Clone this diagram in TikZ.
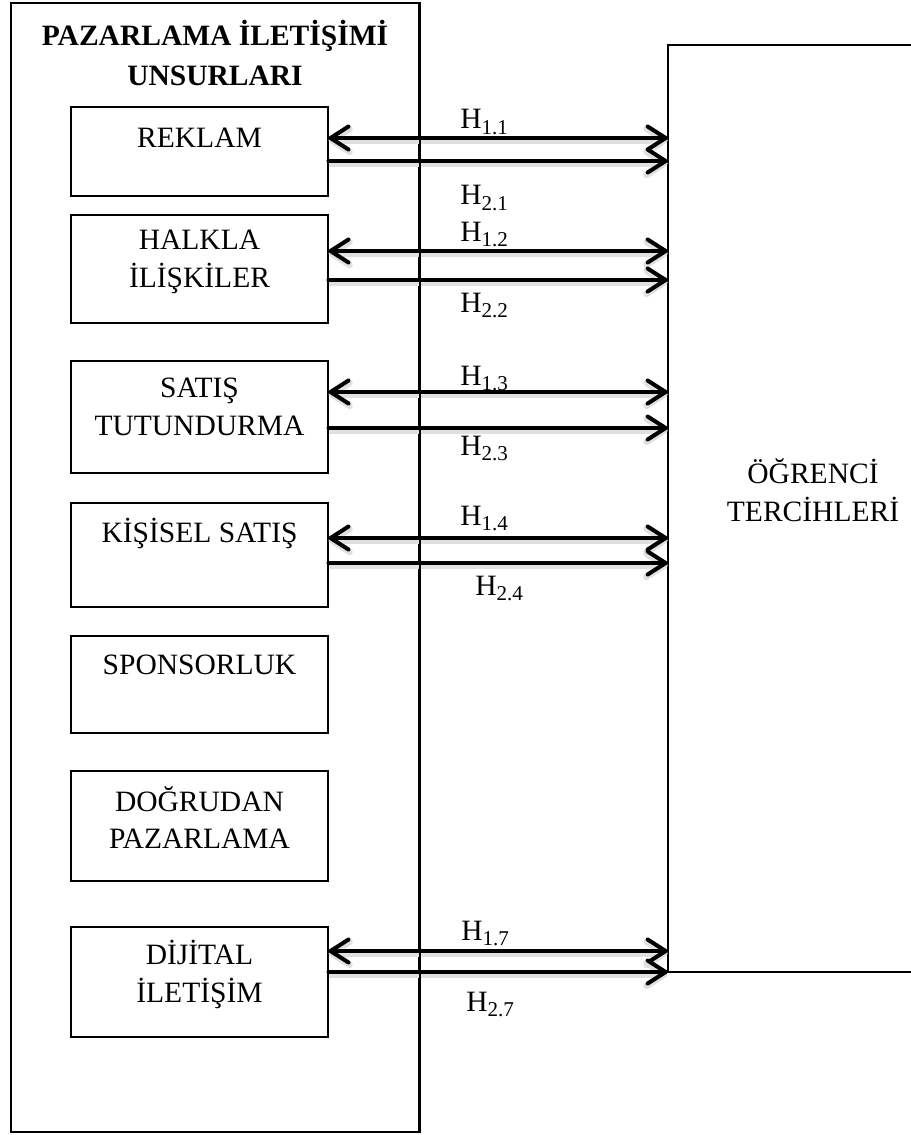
\documentclass[tikz,border=0pt]{standalone}
\usepackage{fontspec}
\setmainfont{Liberation Serif}
\usetikzlibrary{arrows.meta}
\newcommand{\hsub}[2]{H\raisebox{-3pt}{\fontsize{12}{12}\selectfont #1.#2}}

\begin{document}
\begin{tikzpicture}[x=0.02cm,y=-0.02cm,
    frame/.style={draw,line width=1.1pt,inner sep=0pt},
    elem/.style={draw,line width=0.6pt,minimum width=5.14cm,inner sep=0pt},
    txt/.style={font=\fontsize{16.8}{21.6}\selectfont,align=center,inner sep=0pt},
    hl/.style={font=\fontsize{16.8}{20}\selectfont,anchor=base west,inner sep=0pt},
    hyp/.style={line width=2.3pt,line cap=round,
      >={Straight Barb[length=3.6mm,width=4.6mm,round]},
      preaction={draw=black!12,line width=3.6pt,transform canvas={yshift=-1.4pt}}}]
  \useasboundingbox (0,0) rectangle (911,1135);
  % left frame and its title
  \node[frame,minimum width=8.16cm,minimum height=22.58cm] (pil) at (215,567.5) {};
  \node[txt,font=\fontsize{16.8}{22.7}\selectfont\bfseries] (title) at (215,53) {PAZARLAMA İLETİŞİMİ\\UNSURLARI};
  % elements
  \node[elem,minimum height=1.78cm] (reklam) at (199.5,151.5) {};
  \node[elem,minimum height=2.16cm] (halkla) at (199.5,269) {};
  \node[elem,minimum height=2.24cm] (satis) at (199.5,417) {};
  \node[elem,minimum height=2.08cm] (kisisel) at (199.5,555) {};
  \node[elem,minimum height=1.94cm] (sponsor) at (199.5,684.5) {};
  \node[elem,minimum height=2.2cm] (dogrudan) at (199.5,826) {};
  \node[elem,minimum height=2.2cm] (dijital) at (199.5,982) {};
  \node[txt] (reklamtxt) at (199.5,138) {REKLAM};
  \node[txt] (halklatxt) at (199.5,262) {HALKLA\\İLİŞKİLER};
  \node[txt] (satistxt) at (199.5,407) {SATIŞ\\TUTUNDURMA};
  \node[txt] (kisiseltxt) at (199.5,533) {KİŞİSEL SATIŞ};
  \node[txt] (sponsortxt) at (199.5,665) {SPONSORLUK};
  \node[txt] (dogrudantxt) at (199.5,817.5) {DOĞRUDAN\\PAZARLAMA};
  \node[txt] (dijitaltxt) at (199.5,974) {DİJİTAL\\İLETİŞİM};
  % student preferences (open to the right)
  \node[minimum width=4.86cm,minimum height=18.54cm,inner sep=0pt] (ogr) at (789.5,508.5) {};
  \draw[line width=1.1pt] (ogr.north east) -- (ogr.north west) -- (ogr.south west) -- (ogr.south east);
  \node[txt] (ogrtxt) at (813,490.5) {ÖĞRENCİ\\TERCİHLERİ};
  % hypotheses
  \draw[hyp,<->] (reklam.east |- 0,138) -- (ogr.west |- 0,138);
  \draw[hyp,->] (reklam.east |- 0,161) -- (ogr.west |- 0,161);
  \draw[hyp,<->] (halkla.east |- 0,251) -- (ogr.west |- 0,251);
  \draw[hyp,->] (halkla.east |- 0,280) -- (ogr.west |- 0,280);
  \draw[hyp,<->] (satis.east |- 0,392) -- (ogr.west |- 0,392);
  \draw[hyp,->] (satis.east |- 0,428) -- (ogr.west |- 0,428);
  \draw[hyp,<->] (kisisel.east |- 0,538) -- (ogr.west |- 0,538);
  \draw[hyp,->] (kisisel.east |- 0,563) -- (ogr.west |- 0,563);
  \draw[hyp,<->] (dijital.east |- 0,951) -- (ogr.west |- 0,951);
  \draw[hyp,->] (dijital.east |- 0,972) -- (ogr.west |- 0,972);
  % frame edge stays on top of the arrows
  \draw[line width=1.1pt] (pil.north east) -- (pil.south east);
  \node[hl] (h11) at (460,129) {\hsub{1}{1}};
  \node[hl] (h21) at (460,205) {\hsub{2}{1}};
  \node[hl] (h12) at (460,241) {\hsub{1}{2}};
  \node[hl] (h22) at (460,312) {\hsub{2}{2}};
  \node[hl] (h13) at (460,385) {\hsub{1}{3}};
  \node[hl] (h23) at (460,455) {\hsub{2}{3}};
  \node[hl] (h14) at (460,525) {\hsub{1}{4}};
  \node[hl] (h24) at (475,595) {\hsub{2}{4}};
  \node[hl] (h17) at (461,940) {\hsub{1}{7}};
  \node[hl] (h27) at (466,1011) {\hsub{2}{7}};
\end{tikzpicture}
\end{document}
